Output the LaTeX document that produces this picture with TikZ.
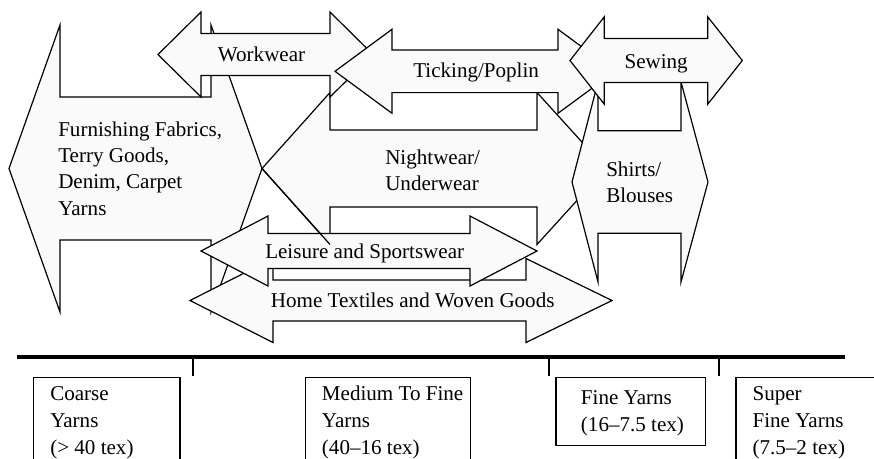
\documentclass[tikz,border=0pt]{standalone}
\usepackage{fontspec}
\setmainfont{Liberation Serif}
% double-headed horizontal block arrow:
% #1 left tip x, #2 left head base x, #3 right head base x, #4 right tip x,
% #5 centre y, #6 head half height, #7 shaft half height
\newcommand{\dblarr}[7]{%
  \draw[shp] (#1,#5) -- (#2,#5-#6) -- (#2,#5-#7) -- (#3,#5-#7) -- (#3,#5-#6)
    -- (#4,#5) -- (#3,#5+#6) -- (#3,#5+#7) -- (#2,#5+#7) -- (#2,#5+#6) -- cycle;}
\begin{document}
\begin{tikzpicture}[x=0.75pt,y=-0.75pt,
  shp/.style={draw=black,fill=black!2,line width=0.9pt,line join=miter},
  edge/.style={draw=black,line width=0.9pt},
  lbl/.style={font=\fontsize{15.8}{19.6}\selectfont,inner sep=0pt,align=left,anchor=base west},
  boxlbl/.style={font=\fontsize{15.8}{20.4}\selectfont,inner sep=0pt,align=left,anchor=base west},
  ybox/.style={draw=black,fill=white,line width=0.9pt},
  axis/.style={draw=black,line width=3.2pt},
  tick/.style={draw=black,line width=1pt}]
\clip (0,0) rectangle (874,458);

% Furnishing Fabrics
\dblarr{9}{60}{211}{262}{168.5}{143.5}{71.5}
\node[lbl] (furnT) at (58,215) {Furnishing Fabrics,\\Terry Goods,\\Denim, Carpet\\Yarns};

% Nightwear / Underwear
\dblarr{262}{330}{537}{606}{168.5}{76}{38.5}
\node[lbl] (nightT) at (385,190.5) {Nightwear/\\Underwear};

% Workwear
\dblarr{158}{201}{330}{373}{54.5}{42.5}{21}
\node[lbl] (workT) at (217.7,61.7) {Workwear};

% Ticking/Poplin
\dblarr{335}{392}{558}{615}{71.3}{42}{21.3}
\node[lbl] (tickT) at (413,77.5) {Ticking/Poplin};

% Home Textiles and Woven Goods
\dblarr{190}{273}{526}{612}{300.5}{42}{20.5}
\node[lbl] (homeT) at (270.7,307.3) {Home Textiles and Woven Goods};

% Leisure and Sportswear
\dblarr{201}{268}{470}{537}{251}{35}{17.5}
\coordinate (nwtip) at (262,168.5);
\coordinate (nwlow) at (330,244.5);
\draw[edge] (nwtip) -- (nwlow);
\node[lbl] (leisT) at (265,258.3) {Leisure and Sportswear};

% Shirts / Blouses
\dblarr{572}{598}{681}{708}{182}{100}{51.3}
\node[lbl] (shirtT) at (606,202.3) {Shirts/\\Blouses};

% Sewing
\dblarr{570}{604.3}{707.7}{742.3}{60.5}{43.7}{22}
\node[lbl] (sewT) at (624.3,68.3) {Sewing};

% scale line
\coordinate (axL) at (17,357);
\coordinate (axR) at (845,357);
\draw[axis] (axL) -- (axR);
\coordinate (t1a) at (193,357); \coordinate (t1b) at (193,376);
\coordinate (t2a) at (549,357); \coordinate (t2b) at (549,376);
\coordinate (t3a) at (719,357); \coordinate (t3b) at (719,376);
\draw[tick] (t1a) -- (t1b);
\draw[tick] (t2a) -- (t2b);
\draw[tick] (t3a) -- (t3b);

% yarn boxes
\draw[ybox] (33.3,377.7) rectangle (180,475);
\node[boxlbl] (coarseT) at (50,454.5) {Coarse\\Yarns\\(> 40 tex)};
\draw[ybox] (305.7,377.7) rectangle (470.7,475);
\node[boxlbl] (mediumT) at (321.7,454.5) {Medium To Fine\\Yarns\\(40–16 tex)};
\draw[ybox] (556,377.7) rectangle (705.7,445.7);
\node[boxlbl] (fineT) at (580.7,431.7) {Fine Yarns\\(16–7.5 tex)};
\draw[ybox] (736,377.7) rectangle (895,475);
\node[boxlbl] (superT) at (752.3,454.5) {Super\\Fine Yarns\\(7.5–2 tex)};
\end{tikzpicture}
\end{document}
